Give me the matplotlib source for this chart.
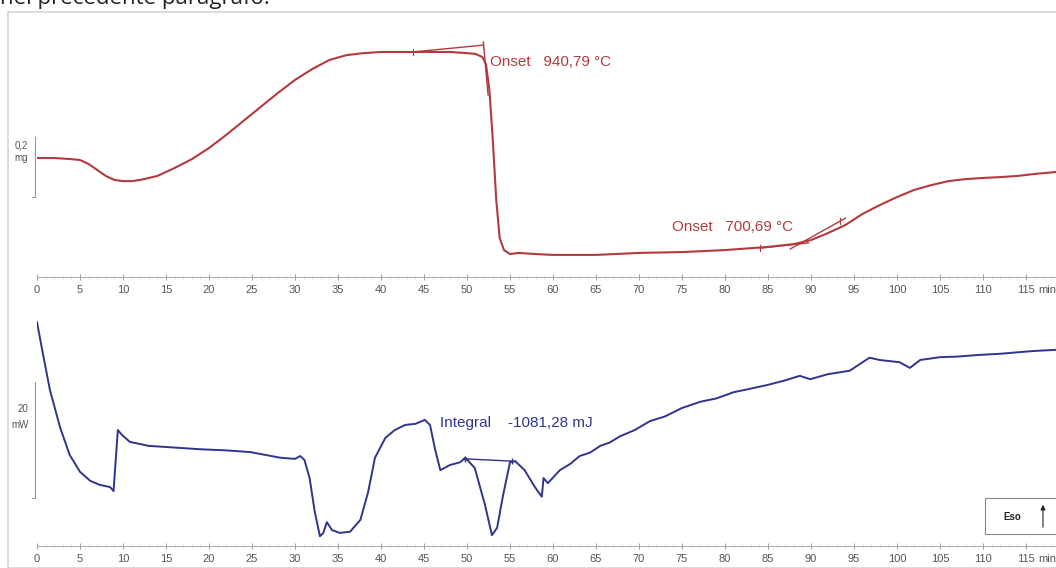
import matplotlib.pyplot as plt
import numpy as np
from matplotlib.patches import Rectangle, FancyArrowPatch

# TG curve (mass change, mg) vs time (min)
tg_t = [0, 2, 4, 5, 6, 7, 8, 9, 10, 11, 12, 14, 16, 18, 20, 22, 24, 26, 28, 30,
        32, 34, 36, 38, 40, 42, 44, 46, 48, 50, 51, 51.8, 52.2, 52.6, 53, 53.4,
        53.8, 54.3, 55, 56, 58, 60, 65, 70, 75, 80, 85, 88, 90, 92, 94, 96, 98,
        100, 102, 104, 106, 108, 110, 112, 114, 116, 118.5]
tg_mg = [0.000, 0.000, -0.004, -0.007, -0.021, -0.042, -0.063, -0.077, -0.081,
         -0.081, -0.077, -0.063, -0.035, -0.004, 0.035, 0.081, 0.130, 0.179,
         0.228, 0.274, 0.312, 0.344, 0.361, 0.368, 0.372, 0.372, 0.372, 0.372,
         0.372, 0.368, 0.365, 0.354, 0.330, 0.239, 0.063, -0.147, -0.281,
         -0.323, -0.337, -0.333, -0.337, -0.340, -0.340, -0.333, -0.330,
         -0.323, -0.312, -0.302, -0.288, -0.263, -0.235, -0.196, -0.165,
         -0.137, -0.112, -0.095, -0.081, -0.074, -0.070, -0.067, -0.063,
         -0.056, -0.049]

# DSC curve (heat flow, mW) vs time (min)
dsc_t = [0, 0.6, 1.5, 2.7, 3.8, 5, 6.2, 7.3, 8.5, 8.9, 9.4, 9.9, 10.8, 13, 16,
         19, 22, 24.8, 28.3, 30, 30.6, 31.1, 31.7, 32.3, 32.9, 33.3, 33.7, 34.3,
         35.2, 36.4, 37.6, 38.5, 39.3, 40.5, 41.6, 42.8, 44, 45.1, 45.7, 46.3,
         46.9, 48, 49.2, 49.8, 50.9, 52.1, 52.9, 53.5, 54.2, 55, 55.6, 56.7,
         57.9, 58.7, 58.9, 59.4, 60.8, 62, 63.1, 64.3, 65.5, 66.6, 67.8, 69.5,
         71.3, 73, 75, 77.1, 79, 81, 82.9, 85, 87, 88.7, 89.9, 92, 94.5, 96.8,
         98, 100.3, 101.5, 102.7, 105, 107, 109.6, 112, 114.3, 116, 118.5]
dsc_mw = [42.1, 37.2, 30.1, 23.4, 18.6, 15.6, 14.0, 13.3, 12.9, 12.2, 23.0,
          22.1, 20.9, 20.2, 19.9, 19.6, 19.4, 19.1, 18.1, 17.9, 18.4, 17.7,
          14.5, 8.5, 4.2, 4.8, 6.7, 5.3, 4.8, 5.0, 7.1, 12.0, 18.1, 21.6, 23.0,
          23.9, 24.1, 24.8, 23.9, 19.5, 15.9, 16.8, 17.3, 18.1, 16.3, 9.7, 4.4,
          5.7, 11.5, 17.3, 17.5, 15.9, 12.9, 11.2, 14.5, 13.6, 15.9, 17.0, 18.4,
          19.0, 20.2, 20.8, 21.9, 23.0, 24.6, 25.4, 26.9, 28.0, 28.6, 29.7,
          30.3, 31.0, 31.8, 32.6, 32.0, 32.9, 33.5, 35.8, 35.4, 35.0, 34.0,
          35.4, 35.9, 36.0, 36.3, 36.5, 36.8, 37.0, 37.2]

ticks = [0, 5, 10, 15, 20, 25, 30, 35, 40, 45, 50, 55, 60, 65, 70, 75, 80, 85,
         90, 95, 100, 105, 110, 115]

red = '#b23a3e'
blue = '#2f348f'
W, H = 1056, 568
tmax = 1019 / 8.6

fig = plt.figure(figsize=(W / 100, H / 100), dpi=100)
plt.rcParams['font.family'] = ['Liberation Sans', 'DejaVu Sans']

# page text and image frame
fig.text(0.0, 1 - 4 / H, 'nel precedente paragrafo.', fontsize=16,
         family=['Open Sans', 'DejaVu Sans'], color='#222222', va='baseline')
fig.add_artist(Rectangle((8 / W, 0), 1.1, 1 - 12 / H, transform=fig.transFigure,
                         fill=False, edgecolor='#d4d4d4', lw=1.2))

ax1 = fig.add_axes([37 / W, 1 - 277 / H, (W - 37) / W, 237 / H])
ax2 = fig.add_axes([37 / W, 1 - 546 / H, (W - 37) / W, 246 / H])

for ax in (ax1, ax2):
    ax.set_xlim(0, tmax)
    for s in ('top', 'right', 'left'):
        ax.spines[s].set_visible(False)
    ax.spines['bottom'].set_color('#b0b0b0')
    ax.spines['bottom'].set_linewidth(0.8)
    ax.set_xticks(ticks)
    ax.set_xticks(np.arange(0, 119, 1), minor=True)
    ax.set_xticklabels([str(v) for v in ticks])
    ax.tick_params(axis='x', which='major', direction='inout', length=4,
                   width=0.7, color='#9a9a9a', labelsize=8,
                   labelcolor='#555555', pad=4)
    ax.tick_params(axis='x', which='minor', direction='inout', length=2,
                   width=0.6, color='#b0b0b0')
    ax.set_yticks([])
    ax.patch.set_alpha(0)
    ax.annotate('min', xy=(116.4, 0), xycoords=('data', 'axes fraction'),
                xytext=(0, -6), textcoords='offset points', fontsize=8,
                color='#555555', va='top', ha='left', annotation_clip=False)

# --- TG panel
ax1.set_ylim(-0.4175, 0.414)
ax1.plot(tg_t, tg_mg, color=red, lw=1.5)
ax1.plot([-0.25, -0.25, -0.6], [0.074, -0.137, -0.137], color='#999999',
         lw=0.8, clip_on=False)
ax1.text(-1.0, 0.045, '0,2', fontsize=7, color='#555555', ha='right',
         va='center')
ax1.text(-1.0, -0.0, 'mg', fontsize=7, color='#555555', ha='right',
         va='center')
# onset 940,79 construction
ax1.plot([43.7, 51.9], [0.372, 0.396], color=red, lw=1.0)
ax1.plot([51.9, 52.45], [0.407, 0.221], color=red, lw=1.0)
ax1.plot([43.7, 43.7], [0.362, 0.382], color=red, lw=0.8)
ax1.plot([51.9, 51.9], [0.386, 0.408], color=red, lw=0.8)
ax1.text(52.7, 0.337, 'Onset   940,79 °C', color=red, fontsize=11,
         va='center', ha='left')
# onset 700,69 construction
ax1.plot([84.1, 89.7], [-0.316, -0.298], color=red, lw=1.0)
ax1.plot([87.6, 94.0], [-0.319, -0.211], color=red, lw=1.0)
ax1.plot([84.1, 84.1], [-0.306, -0.326], color=red, lw=0.8)
ax1.plot([93.4, 93.4], [-0.212, -0.232], color=red, lw=0.8)
ax1.text(73.8, -0.242, 'Onset   700,69 °C', color=red, fontsize=11,
         va='center', ha='left')

# --- DSC panel
ax2.set_ylim((560 - 546) / 5.65, (560 - 300) / 5.65)
ax2.plot(dsc_t, dsc_mw, color=blue, lw=1.4)
ax2.plot([-0.25, -0.25, -0.6], [31.5, 11.0, 11.0], color='#999999',
         lw=0.8, clip_on=False)
ax2.text(-1.0, 26.7, '20', fontsize=7, color='#555555', ha='right',
         va='center')
ax2.text(-1.0, 23.9, 'mW', fontsize=7, color='#555555', ha='right',
         va='center')
ax2.plot([49.8, 55.2], [17.9, 17.5], color=blue, lw=1.0, marker='+',
         markersize=5)
ax2.text(46.9, 24.2, 'Integral    -1081,28 mJ', color=blue, fontsize=11,
         va='center', ha='left')

# Eso box
fig.add_artist(Rectangle((985 / W, 1 - 534 / H), 0.2, 36 / H,
                         transform=fig.transFigure, facecolor='white',
                         edgecolor='#888888', lw=0.8))
fig.text(1003 / W, 1 - 517 / H, 'Eso', fontsize=7, fontweight='bold',
         color='#222222', va='center')
fig.add_artist(FancyArrowPatch((1043 / W, 1 - 530 / H), (1043 / W, 1 - 502 / H),
                               transform=fig.transFigure, arrowstyle='-|>',
                               mutation_scale=7, color='#222222', lw=0.8))

fig.savefig('out.png', dpi=100)
